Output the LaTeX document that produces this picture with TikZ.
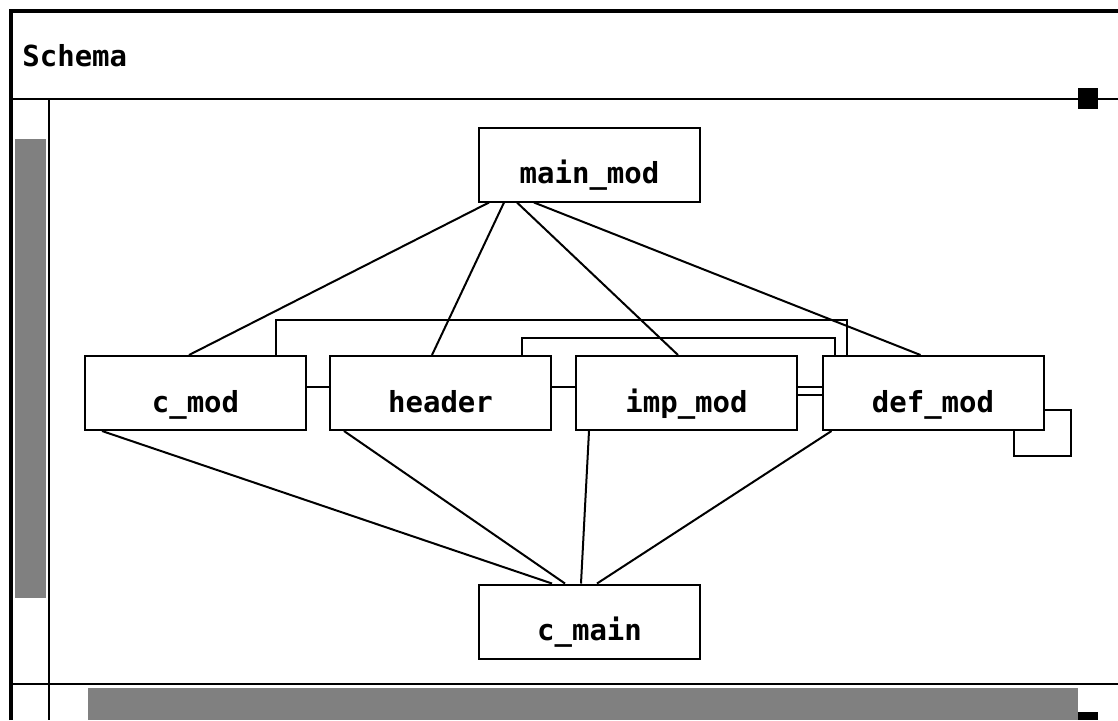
\documentclass[tikz,border=0pt]{standalone}
\usepackage{fontspec}
\setmonofont{DejaVu Sans Mono}
\begin{document}
\begin{tikzpicture}[x=0.5pt,y=-0.5pt,
  mod/.style={draw=black,line width=1pt,minimum width=110.5pt,minimum height=37pt,inner sep=0pt,fill=white,
    text height=19pt,text depth=0pt,
    font=\ttfamily\bfseries\fontsize{14.5}{17}\selectfont},
  conn/.style={line width=1pt,black},
  frame/.style={line width=1pt,black},
  bar/.style={fill=black!50,draw=none}]
\useasboundingbox (0,0) rectangle (1118,720);
% window frame
\draw[line width=2pt] (10.5,720) -- (10.5,10.5) -- (1118,10.5);
\node[anchor=base west,inner sep=0pt,font=\ttfamily\bfseries\fontsize{14.5}{17}\selectfont] (title) at (22,66) {Schema};
\draw[frame] (12,99) -- (1118,99);
\draw[frame] (49,99) -- (49,720);
\draw[frame] (12,684) -- (1118,684);
\fill[bar] (15,139) rectangle (46,598);
\fill[bar] (88,688) rectangle (1078,720);
\fill[black] (1078,88) rectangle (1098,109);
\fill[black] (1078,712) rectangle (1098,720);
% nodes
\node[mod] (main) at (589.5,164.5) {main\_mod};
\node[mod] (cmod) at (195.5,393) {c\_mod};
\node[mod] (header) at (440.5,393) {header};
\node[mod] (imp) at (686.5,393) {imp\_mod};
\node[mod] (def) at (933,393) {def\_mod};
\node[mod] (cmain) at (589.5,621.5) {c\_main};
% top fan
\draw[conn] ([xshift=5.5pt]main.south west) -- ([xshift=52.5pt]cmod.north west);
\draw[conn] ([xshift=13pt]main.south west) -- ([xshift=51.5pt]header.north west);
\draw[conn] ([xshift=19.5pt]main.south west) -- ([xshift=51.5pt]imp.north west);
\draw[conn] ([xshift=28pt]main.south west) -- ([xshift=49.5pt]def.north west);
% bottom fan
\draw[conn] ([xshift=9pt]cmod.south west) -- ([xshift=37pt]cmain.north west);
\draw[conn] ([xshift=7.5pt]header.south west) -- ([xshift=43.5pt]cmain.north west);
\draw[conn] ([xshift=7pt]imp.south west) -- ([xshift=51.5pt]cmain.north west);
\draw[conn] ([xshift=5pt]def.south west) -- ([xshift=59.5pt]cmain.north west);
% orthogonal links
\draw[conn] ([xshift=96pt]cmod.north west) -- ++(0,-35) -| ([xshift=12.5pt]def.north west);
\draw[conn] ([xshift=96.5pt]header.north west) -- ++(0,-17) -| ([xshift=6.5pt]def.north west);
\draw[conn] ([yshift=3pt]cmod.east) -- ([yshift=3pt]header.west);
\draw[conn] ([yshift=3pt]header.east) -- ([yshift=3pt]imp.west);
\draw[conn] ([yshift=3pt]imp.east) -- ([yshift=3pt]def.west);
\draw[conn] ([yshift=-1pt]imp.east) -- ([yshift=-1pt]def.west);
\draw[conn] ([yshift=-8.5pt]def.east) -| ++(26,46) -| ([xshift=96pt]def.south west);
\end{tikzpicture}
\end{document}
